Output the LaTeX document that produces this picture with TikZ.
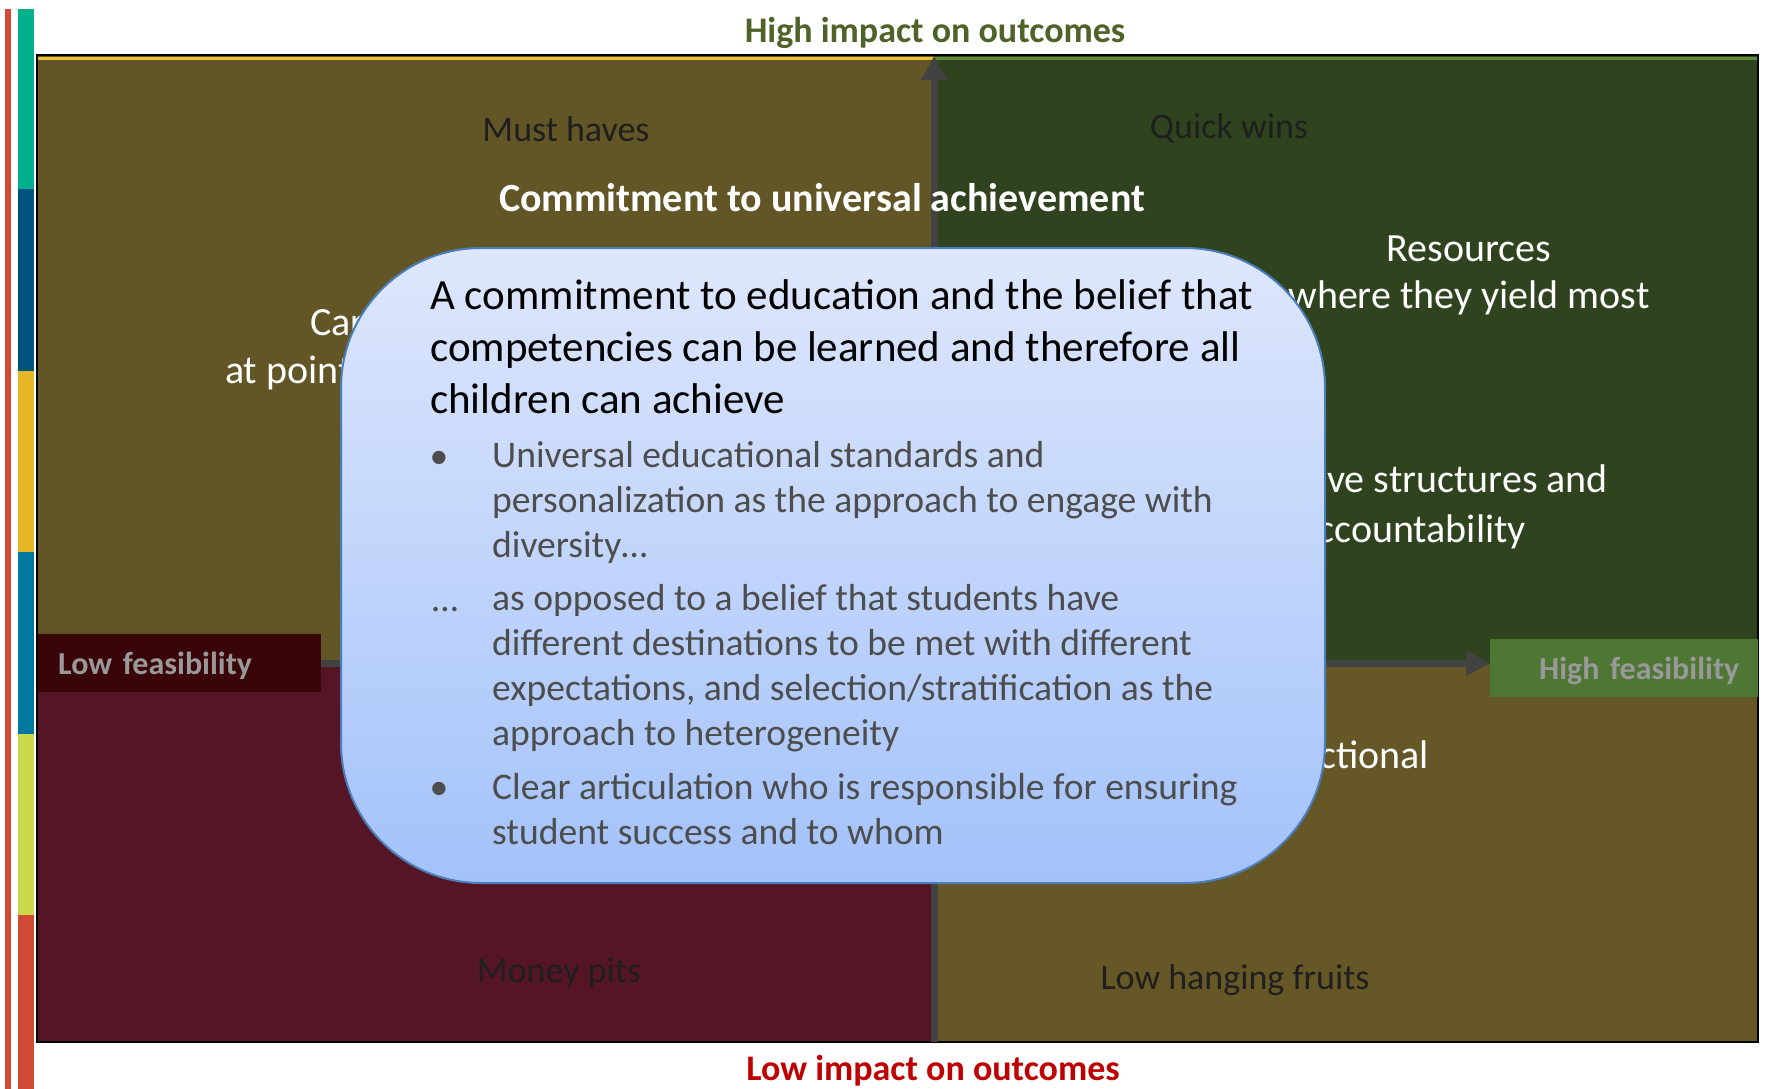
\documentclass[tikz,border=0pt]{standalone}
\usepackage{fontspec}
\setmainfont{Carlito}
\usepackage{tikz}
\usetikzlibrary{positioning, calc}
\usetikzlibrary{arrows.meta}

\definecolor{barteal}{HTML}{00B08A}
\definecolor{barnavy}{HTML}{00527F}
\definecolor{baryellow}{HTML}{E4B825}
\definecolor{barblue}{HTML}{0078A0}
\definecolor{barlime}{HTML}{C8D94C}
\definecolor{barred}{HTML}{D14A35}
\definecolor{tlcol}{HTML}{625626}
\definecolor{trcol}{HTML}{30431F}
\definecolor{blcol}{HTML}{551525}
\definecolor{brcol}{HTML}{655726}
\definecolor{tlline}{HTML}{E6C030}
\definecolor{trline}{HTML}{5E8C38}
\definecolor{lowbox}{HTML}{3A0508}
\definecolor{highbox}{HTML}{4D7733}
\definecolor{axisgray}{HTML}{424242}
\definecolor{highgreen}{HTML}{4F6228}
\definecolor{lowred}{HTML}{C00000}
\definecolor{calltop}{HTML}{DEE7FC}
\definecolor{callbot}{HTML}{A3C2FA}
\definecolor{callline}{HTML}{4A7EBB}
\definecolor{bulgray}{HTML}{4D4D4D}

\begin{document}
\begin{tikzpicture}[x=1pt,y=-1pt,
    quadtext/.style={font=\fontsize{36}{42}\selectfont, text=black!88},
    whitetext/.style={font=\fontsize{40}{47}\selectfont, text=white, align=center},
    feas/.style={font=\bfseries\fontsize{32}{36}\selectfont, text=gray!80, inner ysep=0pt, text depth=0pt, minimum height=58pt},
    axis/.style={line width=7pt, draw=axisgray, -{Triangle[length=24pt,width=24pt]}},
    callout/.style={draw=callline, line width=2pt, rounded corners=140pt, top color=calltop, bottom color=callbot},
    belief/.style={font=\fontsize{43}{52}\selectfont, text=black, align=left, inner sep=0pt},
    bul/.style={font=\fontsize{37.6}{45}\selectfont, text=bulgray, align=left, inner sep=0pt}
    ]
\useasboundingbox (0,0) rectangle (1765,1089);

\fill[barred] (5,9) rectangle (11,1089);
\foreach \ya/\yb/\c in {9/189/barteal, 189/371/barnavy, 371/552/baryellow, 552/734/barblue, 734/915/barlime, 915/1089/barred}
    \fill[\c] (18,\ya) rectangle (34,\yb);

\fill[tlcol] (37,55) rectangle (934,664);
\fill[trcol] (934,55) rectangle (1758,664);
\fill[blcol] (37,664) rectangle (934,1042);
\fill[brcol] (934,664) rectangle (1758,1042);
\draw[tlline, line width=3pt] (38,58.5) -- (934,58.5);
\draw[trline, line width=3pt] (934,58.5) -- (1757,58.5);
\draw[line width=2.5pt] (37,55) rectangle (1758,1042);

\node[feas, fill=lowbox, anchor=north west, text width=243pt, inner xsep=20pt, align=left] (lowfeas) at (38,634) {Low feasibility};
\node[feas, fill=highbox, anchor=north west, text width=230pt, inner xsep=19pt, align=right] (highfeas) at (1490,639) {High feasibility};

\coordinate (axbot) at (934,1042);
\coordinate (axtop) at (934,56);
\draw[axis] (axbot) -- (axtop);
\draw[axis] (lowfeas.east) -- (lowfeas.east -| highfeas.west);

\node[font=\bfseries\fontsize{36}{42}\selectfont, text=highgreen] (highimpact) at (935,33) {High impact on outcomes};
\node[font=\bfseries\fontsize{36}{42}\selectfont, text=lowred] (lowimpact) at (933,1071) {Low impact on outcomes};

\node[quadtext] (musthaves) at (566,129) {Must haves};
\node[quadtext] (quickwins) at (1229,128) {Quick wins};
\node[quadtext] (moneypits) at (559,973) {Money pits};
\node[quadtext] (lowhanging) at (1235,980) {Low hanging fruits};

\node[whitetext, font=\bfseries\fontsize{40}{47}\selectfont] (commit) at (822,198) {Commitment to universal achievement};
\node[whitetext, anchor=base west] (career) at (306.5,335) {Car};
\node[whitetext, anchor=base west] (point) at (221.5,383) {at point};
\node[whitetext] (resources) at (1469,275) {Resources\\where they yield most};
\node[whitetext, anchor=base east] (structures) at (1611.5,492) {ve structures and};
\node[whitetext, anchor=base east] (account) at (1529.5,542) {ccountability};
\node[whitetext, anchor=base east] (tional) at (1432.5,768) {ctional};

\node[callout, minimum width=984pt, minimum height=635pt] (box) at (833,565.5) {};

\node[belief, anchor=base west] (belieftext) at (430,413) {A commitment to education and the belief that\\competencies can be learned and therefore all\\children can achieve};
\node[bul, anchor=base west] (item1) at (492,557) {Universal educational standards and\\personalization as the approach to engage with\\diversity…};
\node[bul, anchor=base west] (item2) at (492,745) {as opposed to a belief that students have\\different destinations to be met with different\\expectations, and selection/stratification as the\\approach to heterogeneity};
\node[bul, anchor=base west] (item3) at (492,844) {Clear articulation who is responsible for ensuring\\student success and to whom};
\node[bul, anchor=base] (mark1) at (439,468) {•};
\node[bul, anchor=base] (mark2) at (445,611) {…};
\node[bul, anchor=base] (mark3) at (439,799) {•};
\end{tikzpicture}
\end{document}
